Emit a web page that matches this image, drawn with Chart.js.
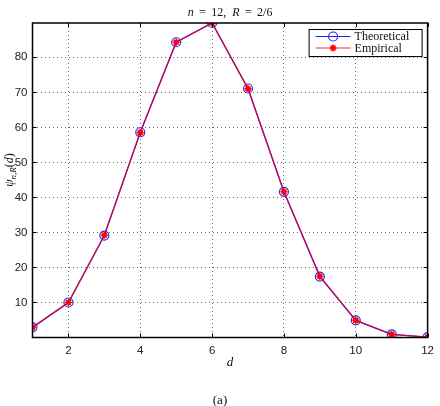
<!DOCTYPE html>
<html>
<head>
<meta charset="utf-8">
<script src="https://cdn.jsdelivr.net/npm/chart.js@4/dist/chart.umd.min.js"></script>
<style>
  html, body { margin: 0; padding: 0; background: #fff; }
  #wrap { width: 440px; height: 406px; position: relative; }
</style>
</head>
<body>
<div id="wrap"><canvas id="chart"></canvas></div>
<script>
        // values
        const dValues = [1, 2, 3, 4, 5, 6, 7, 8, 9, 10, 11, 12];
        const theoretical = [2.9, 10.0, 29.1, 58.6, 84.3, 89.8, 71.1, 41.6, 17.4, 4.9, 0.9, 0.1];
        const empirical = [2.9, 10.0, 29.2, 58.5, 84.3, 89.8, 71.0, 41.6, 17.5, 4.9, 0.9, 0.1];
        const xTicks = [2, 4, 6, 8, 10, 12];
        const yTicks = [10, 20, 30, 40, 50, 60, 70, 80];
        const seriesNames = ['Theoretical', 'Empirical'];

        const serif = '"Liberation Serif", "DejaVu Serif", serif';
        const sans = '"Liberation Sans", Arial, sans-serif';

        function drawRuns(ctx, runs, x, y, align) {
            let total = 0;
            runs.forEach(r => { ctx.font = r.font; total += ctx.measureText(r.text).width; });
            let cx = align === 'center' ? x - total / 2 : x;
            runs.forEach(r => {
                ctx.font = r.font;
                ctx.fillText(r.text, cx, y + (r.dy || 0));
                cx += ctx.measureText(r.text).width;
            });
        }

        const decorations = {
            id: 'decorations',
            afterDraw(chart) {
                const ctx = chart.ctx;
                const a = chart.chartArea;
                const xs = chart.scales.x, ys = chart.scales.y;
                ctx.save();

                // inward ticks
                ctx.strokeStyle = '#000';
                ctx.lineWidth = 1;
                ctx.beginPath();
                xTicks.forEach(v => {
                    const px = Math.round(xs.getPixelForValue(v)) + 0.5;
                    ctx.moveTo(px, a.bottom); ctx.lineTo(px, a.bottom - 4);
                    ctx.moveTo(px, a.top); ctx.lineTo(px, a.top + 4);
                });
                yTicks.forEach(v => {
                    const py = Math.round(ys.getPixelForValue(v)) + 0.5;
                    ctx.moveTo(a.left, py); ctx.lineTo(a.left + 4, py);
                    ctx.moveTo(a.right, py); ctx.lineTo(a.right - 4, py);
                });
                ctx.stroke();

                // axes box
                ctx.lineWidth = 1.5;
                ctx.strokeRect(a.left, a.top, a.right - a.left, a.bottom - a.top);

                ctx.fillStyle = '#111';
                ctx.textBaseline = 'alphabetic';

                // title
                const cxPlot = (a.left + a.right) / 2;
                const sp = '\u2009';
                drawRuns(ctx, [
                    { text: 'n', font: 'italic 12px ' + serif },
                    { text: sp + ' = ' + sp + '12,  ', font: '12px ' + serif },
                    { text: 'R', font: 'italic 12px ' + serif },
                    { text: sp + ' = ' + sp + '2/6', font: '12px ' + serif }
                ], cxPlot, 16, 'center');

                // x label
                drawRuns(ctx, [{ text: 'd', font: 'italic 13px ' + serif }], cxPlot, 366, 'center');

                // caption
                drawRuns(ctx, [{ text: '(a)', font: '13px ' + serif }], 220, 404, 'center');

                // y label
                ctx.save();
                ctx.translate(13, 170);
                ctx.rotate(-Math.PI / 2);
                drawRuns(ctx, [
                    { text: 'ψ', font: 'italic 12px ' + serif },
                    { text: 'n,R', font: 'italic 9px ' + serif, dy: 2.5 },
                    { text: '(', font: '12px ' + serif },
                    { text: 'd', font: 'italic 12px ' + serif },
                    { text: ')', font: '12px ' + serif }
                ], 0, 0, 'center');
                ctx.restore();

                // legend
                const bx = a.right - 119, by = a.top + 6, bw = 113, bh = 27;
                ctx.fillStyle = '#fff';
                ctx.fillRect(bx, by, bw, bh);
                ctx.lineWidth = 1;
                ctx.strokeStyle = '#000';
                ctx.strokeRect(bx + 0.5, by + 0.5, bw, bh);
                chart.data.datasets.forEach((ds, i) => {
                    const ry = by + 7.5 + i * 11.5;
                    ctx.strokeStyle = ds.legendColor;
                    ctx.lineWidth = 1.2;
                    ctx.beginPath();
                    ctx.moveTo(bx + 7, ry); ctx.lineTo(bx + 42, ry);
                    ctx.stroke();
                    ctx.strokeStyle = ds.pointBorderColor;
                    ctx.fillStyle = ds.pointBackgroundColor;
                    ctx.lineWidth = ds.pointBorderWidth;
                    Chart.helpers.drawPoint(ctx, {
                        pointStyle: ds.pointStyle, radius: ds.pointRadius, rotation: 0,
                        borderWidth: ds.pointBorderWidth
                    }, bx + 24.5, ry);
                    ctx.fillStyle = '#111';
                    ctx.font = '12px ' + serif;
                    ctx.textBaseline = 'middle';
                    ctx.fillText(ds.label, bx + 46, ry + 0.5);
                });
                ctx.restore();
            }
        };

        const ctx = document.getElementById('chart').getContext('2d');
        const chart = new Chart(ctx, {
            type: 'line',
            data: {
                datasets: [
                    {
                        label: seriesNames[0],
                        data: dValues.map((d, i) => ({ x: d, y: theoretical[i] })),
                        order: 2,
                        borderColor: '#1f1fff',
                        legendColor: '#2020ff',
                        borderWidth: 1.3,
                        pointStyle: 'circle',
                        pointRadius: 4.5,
                        pointBorderWidth: 1.2,
                        pointBorderColor: '#2a2aff',
                        pointBackgroundColor: 'rgba(0,0,0,0)',
                        tension: 0
                    },
                    {
                        label: seriesNames[1],
                        data: dValues.map((d, i) => ({ x: d, y: empirical[i] })),
                        order: 1,
                        borderColor: 'rgba(235,0,30,0.8)',
                        legendColor: '#ff3030',
                        borderWidth: 1.3,
                        pointStyle: 'star',
                        pointRadius: 3.5,
                        pointBorderWidth: 1.6,
                        pointBorderColor: '#ff0000',
                        pointBackgroundColor: '#ff0000',
                        tension: 0
                    }
                ]
            },
            options: {
                responsive: true,
                maintainAspectRatio: false,
                animation: false,
                layout: { padding: { left: 0, right: 8, top: 23, bottom: 0 } },
                plugins: {
                    legend: { display: false },
                    tooltip: { enabled: false }
                },
                scales: {
                    x: {
                        type: 'linear',
                        min: 1,
                        max: 12,
                        afterBuildTicks: s => { s.ticks = xTicks.map(v => ({ value: v })); },
                        afterFit: s => { s.height = 68.5; },
                        grid: { color: '#444', lineWidth: 0.8, drawTicks: false },
                        border: { display: false, dash: [1, 3] },
                        ticks: { padding: 6, color: '#222', font: { family: sans, size: 11.5 } }
                    },
                    y: {
                        min: 0,
                        max: Math.max(...theoretical),
                        afterBuildTicks: s => { s.ticks = yTicks.map(v => ({ value: v })); },
                        afterFit: s => { s.width = 32.5; },
                        grid: { color: '#444', lineWidth: 0.8, drawTicks: false },
                        border: { display: false, dash: [1, 3] },
                        ticks: { padding: 5, color: '#222', font: { family: sans, size: 11.5 } }
                    }
                }
            },
            plugins: [decorations]
        });
</script>
</body>
</html>
